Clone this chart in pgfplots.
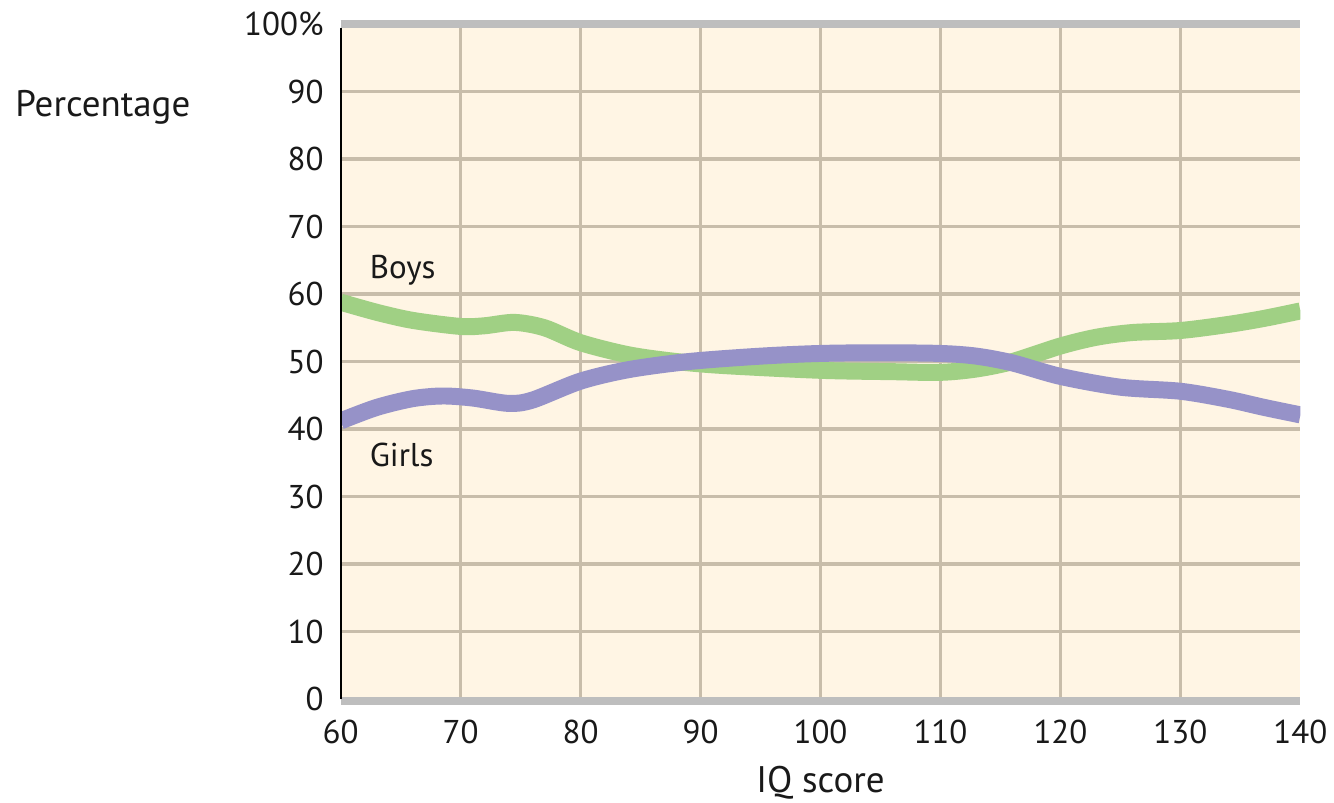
\documentclass[border=0pt]{standalone}
\usepackage{pgfplots}
\pgfplotsset{compat=1.18}
\usepackage{fontspec}
\setmainfont{PT Sans}

\definecolor{bgcream}{RGB}{255,245,228}
\definecolor{gridtan}{RGB}{200,189,170}
\definecolor{boysgreen}{RGB}{160,208,132}
\definecolor{girlspurple}{RGB}{150,146,200}
\definecolor{bandgray}{RGB}{190,190,190}
\definecolor{labelink}{RGB}{25,25,25}

\begin{document}
\begin{tikzpicture}
\begin{axis}[
	name=ax,
	scale only axis,
	width=480.5pt, height=338pt,
	xmin=60, xmax=140, ymin=0, ymax=100,
	xtick={60,70,...,140},
	ytick={0,10,...,100},
	yticklabels={0,10,20,30,40,50,60,70,80,90,100\%},
	extra x ticks={70,80,...,130},
	extra x tick style={grid=major, xticklabel={}},
	extra y ticks={10,20,...,90},
	extra y tick style={grid=major, yticklabel={}},
	major grid style={gridtan, line width=1.8pt},
	axis line style={draw=none},
	major tick length=0pt,
	axis background/.style={fill=bgcream},
	tick label style={font=\fontsize{16.5}{18}\selectfont, text=labelink},
	/pgf/number format/assume math mode=true,
	xticklabel style={yshift=-7pt},
	yticklabel style={xshift=-5pt},
	clip=true,
]
% Boys
\addplot[boysgreen, line width=8.5pt, smooth, tension=0.5] coordinates {
	(60,58.8) (63,57.3) (66,56.1) (70,55.2) (72,55.3) (74.5,55.8) (77,55.0)
	(80,52.8) (84,51.0) (88,50.0) (92,49.4) (100,48.7) (106,48.5) (110,48.4)
	(113,48.9) (116,50.0) (120,52.3) (123,53.6) (126,54.3) (130,54.6)
	(134,55.5) (137,56.4) (140,57.5) };
% Girls
\addplot[girlspurple, line width=8.5pt, smooth, tension=0.5] coordinates {
	(60,41.2) (63,43.2) (66,44.5) (68.5,44.9) (71,44.6) (74,43.8) (76,44.3)
	(80,47.1) (84,48.8) (89,50.0) (95,50.8) (100,51.2) (105,51.3) (110,51.2)
	(113,50.8) (116,49.8) (120,47.8) (125,46.2) (130,45.6) (134,44.4)
	(137,43.2) (140,42.1) };
\node[anchor=west, inner sep=0pt, text=labelink, font=\fontsize{16.5}{18}\selectfont]
	at (axis cs:62.4,63.6) {Boys};
\node[anchor=west, inner sep=0pt, text=labelink, font=\fontsize{16.5}{18}\selectfont]
	at (axis cs:62.4,36.1) {Girls};
\end{axis}

% frame: gray bands top and bottom, thin black line at left
\draw[bandgray, line width=4pt] (ax.north west) -- (ax.north east);
\draw[bandgray, line width=4pt] ([yshift=-1pt]ax.south west) -- ([yshift=-1pt]ax.south east);
\draw[black, line width=1pt] (ax.south west) -- ([yshift=-2pt]ax.north west);

\node[anchor=base west, inner sep=0pt, text=labelink, font=\fontsize{18.5}{20}\selectfont]
	at ([xshift=-163pt, yshift=-46.5pt]ax.north west) {Percentage};
\node[anchor=base, inner sep=0pt, text=labelink, font=\fontsize{18.5}{20}\selectfont]
	at ([yshift=-46.5pt]ax.south) {IQ score};

\path ([xshift=-170.5pt, yshift=-51.5pt]ax.south west) rectangle ([xshift=16pt, yshift=12pt]ax.north east);
\end{tikzpicture}
\end{document}
